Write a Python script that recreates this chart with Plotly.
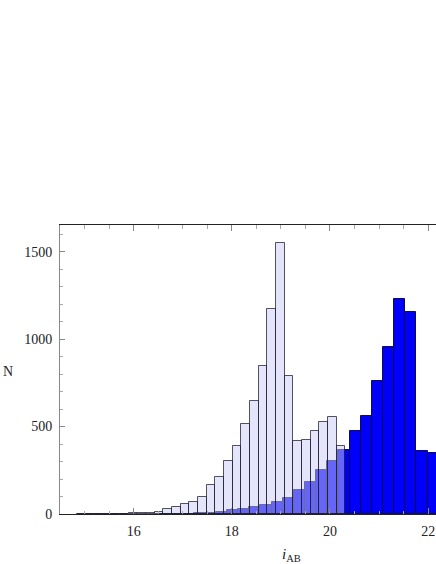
import plotly.graph_objects as go

# ---- data ----
# light histogram: bins of equal width starting at light_start
light_start = 14.843
light_width = 0.1765
light_counts = [1, 0, 1, 2, 1, 2, 4, 5, 8, 13,
                28, 38, 58, 66, 100, 167, 214, 306, 389, 513,
                649, 846, 1171, 1549, 790, 417, 424, 472, 529, 557,
                387]

# blue histogram
blue_start = 16.541
blue_width = 0.227
blue_counts = [1, 1, 2, 3, 5, 12, 22, 28, 42, 52,
               67, 91, 139, 181, 249, 306, 367, 472, 558, 758,
               958, 1230, 1156, 358, 348, 200]

x_ticks = [16, 18, 20, 22]
y_ticks = [0, 500, 1000, 1500]

light_x = [light_start + (i + 0.5) * light_width for i in range(len(light_counts))]
blue_x = [blue_start + (i + 0.5) * blue_width for i in range(len(blue_counts))]

fig = go.Figure()
fig.add_trace(go.Bar(
    x=blue_x, y=blue_counts, width=[blue_width] * len(blue_counts),
    marker=dict(color="rgb(0,0,250)", line=dict(color="rgb(15,15,70)", width=1)),
    showlegend=False, hoverinfo="skip",
))
fig.add_trace(go.Bar(
    x=light_x, y=light_counts, width=[light_width] * len(light_counts),
    marker=dict(color="rgba(201,201,246,0.5)", line=dict(color="rgba(20,20,40,0.72)", width=1)),
    showlegend=False, hoverinfo="skip",
))

serif = "Liberation Serif, Times New Roman, serif"

fig.update_layout(
    width=436, height=564,
    margin=dict(l=60, r=0, t=225, b=50),
    barmode="overlay", bargap=0,
    paper_bgcolor="white", plot_bgcolor="white",
    font=dict(family=serif, size=14, color="#222"),
    xaxis=dict(
        range=[14.5, 22.16], tickmode="array", tickvals=x_ticks,
        ticks="inside", ticklen=6, tickcolor="#888", tickwidth=1,
        minor=dict(dtick=0.5, tick0=0, ticks="inside", ticklen=3.5, tickcolor="#aaa"),
        showline=True, linecolor="#222", linewidth=1, mirror="ticks",
        showgrid=False, zeroline=False, ticklabelstandoff=4, automargin=False,
        tickfont=dict(family=serif, size=14, color="#222"),
    ),
    yaxis=dict(
        range=[0, 1653], tickmode="array", tickvals=y_ticks,
        ticks="inside", ticklen=4.5, tickcolor="#888", tickwidth=1,
        minor=dict(dtick=100, tick0=0, ticks="inside", ticklen=2.5, tickcolor="#aaa"),
        showline=True, linecolor="#888", linewidth=1,
        showgrid=False, zeroline=False, ticklabelstandoff=4, automargin=False,
        tickfont=dict(family=serif, size=14, color="#222"),
    ),
    annotations=[
        dict(text="N", xref="paper", yref="paper", x=0, y=0.5, xshift=-52, yshift=-2,
             xanchor="center", yanchor="middle", showarrow=False,
             font=dict(family=serif, size=14, color="#222")),
        dict(text="<i>i</i><sub>AB</sub>", xref="paper", yref="paper", x=0.617, y=0,
             yshift=-41, xanchor="center", yanchor="middle", showarrow=False,
             font=dict(family=serif, size=15, color="#222")),
    ],
)

fig.write_html(
    "out.html",
    config={"displayModeBar": False},
    post_script="document.body.style.margin='0';document.body.style.overflow='hidden';",
)
